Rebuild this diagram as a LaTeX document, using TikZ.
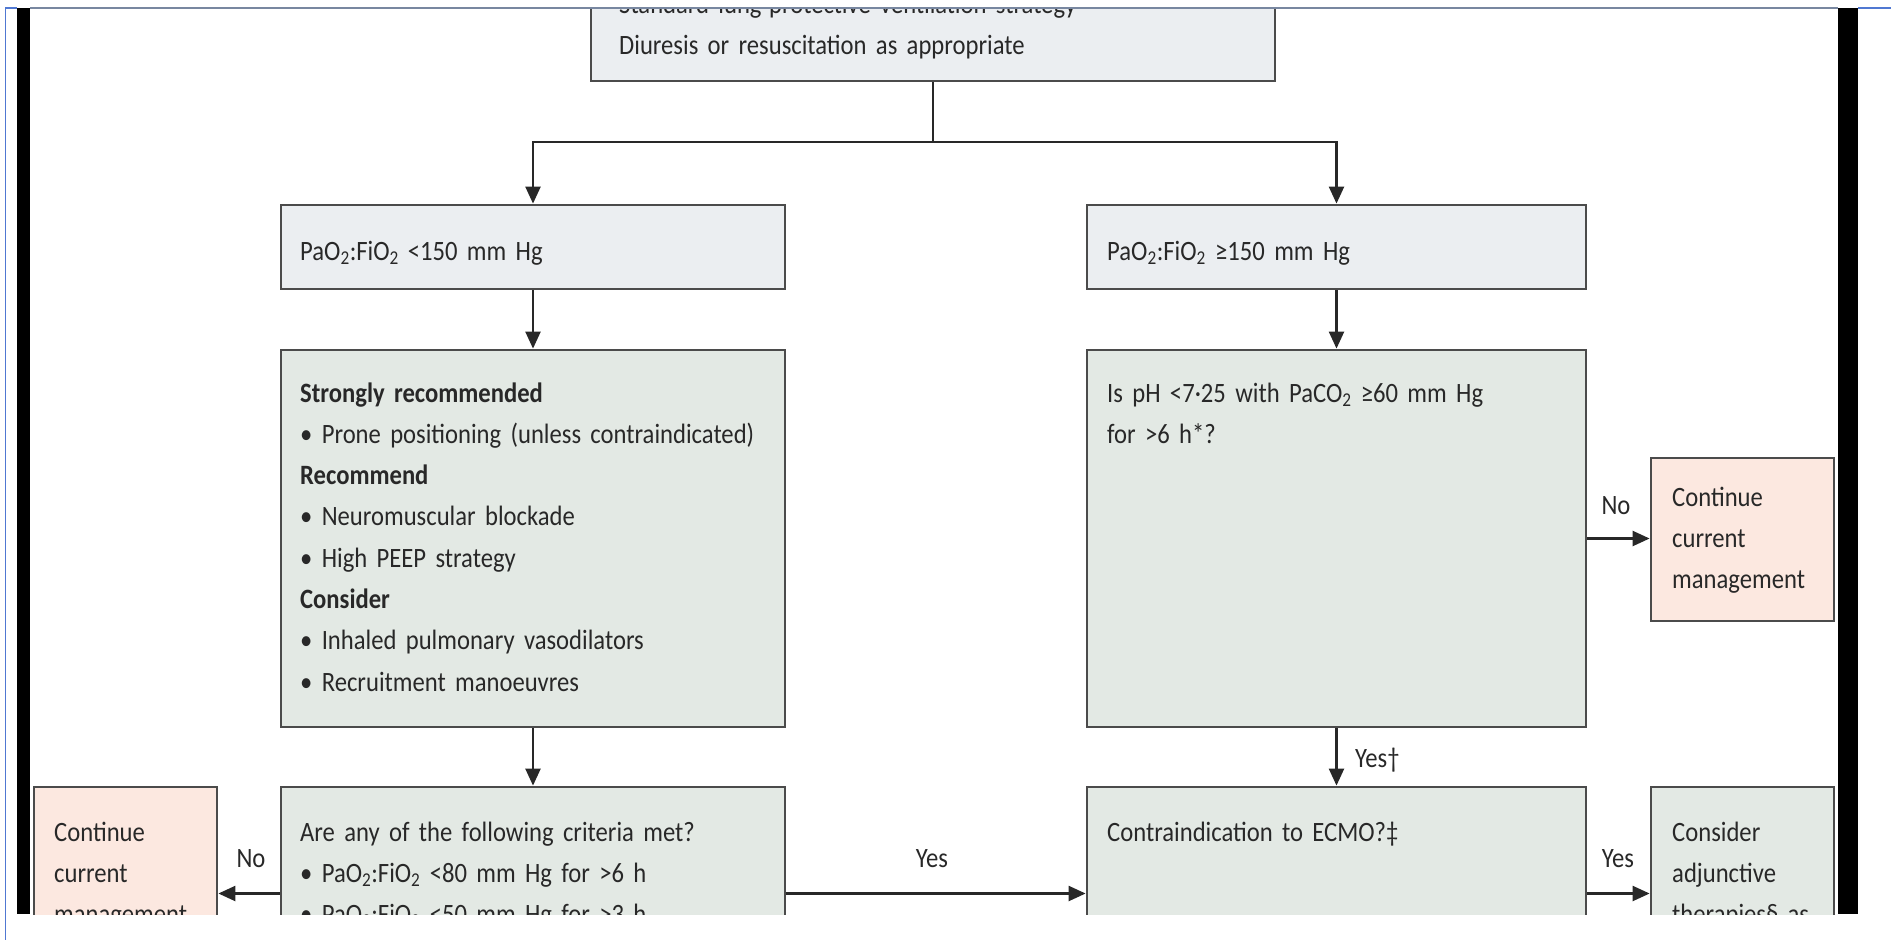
\documentclass[tikz,border=0pt]{standalone}
\usepackage{fontspec}
\setmainfont{Carlito}[FakeStretch=0.88, WordSpace=0.65]
\usetikzlibrary{arrows.meta,calc}
\definecolor{boxgrey}{RGB}{235,238,241}
\definecolor{boxgreen}{RGB}{227,233,228}
\definecolor{boxpink}{RGB}{252,232,224}
\definecolor{bordergrey}{RGB}{75,75,75}
\definecolor{textgrey}{RGB}{40,40,40}
\definecolor{framegrey}{RGB}{120,135,160}
\definecolor{frameblue}{RGB}{80,120,210}
\begin{document}
\begin{tikzpicture}[x=1pt,y=-1pt,
  box/.style={draw=bordergrey, line width=2.8pt, rectangle, inner sep=0pt},
  txt/.style={anchor=base west, align=left, inner sep=0pt, text=textgrey,
    text width=480pt, font=\fontsize{28}{41.3}\selectfont},
  lab/.style={inner sep=0pt, text=textgrey, font=\fontsize{28}{32}\selectfont},
  arr/.style={draw=textgrey, line width=2.3pt, -{Triangle[length=17pt,width=15pt]}},
  conn/.style={draw=textgrey, line width=2.3pt}]
\useasboundingbox (0,0) rectangle (1891,940);
\fill[white] (0,0) rectangle (1891,940);
\begin{scope}
\clip (30,8) rectangle (1838,914);
% boxes
\node[box, fill=boxgrey, minimum width=684pt, minimum height=141pt] (top) at (933,10.5) {};
\node[box, fill=boxgrey, minimum width=504pt, minimum height=84pt] (l1) at (533,247) {};
\node[box, fill=boxgrey, minimum width=499pt, minimum height=84pt] (r1) at (1336.5,247) {};
\node[box, fill=boxgreen, minimum width=504pt, minimum height=377pt] (l2) at (533,538.5) {};
\node[box, fill=boxgreen, minimum width=499pt, minimum height=377pt] (r2) at (1336.5,538.5) {};
\node[box, fill=boxpink, minimum width=183pt, minimum height=163pt] (cmR) at (1742.5,539.5) {};
\node[box, fill=boxgreen, minimum width=504pt, minimum height=213pt] (l3) at (533,893.5) {};
\node[box, fill=boxgreen, minimum width=499pt, minimum height=213pt] (r3) at (1336.5,893.5) {};
\node[box, fill=boxpink, minimum width=183pt, minimum height=213pt] (cmL) at (125.5,893.5) {};
\node[box, fill=boxgreen, minimum width=183pt, minimum height=213pt] (adj) at (1742.5,893.5) {};
% texts
\node[txt] (topt) at (619,13) {Standard lung-protective ventilation strategy\\Diuresis or resuscitation as appropriate};
\node[txt] (l1t) at (300,260) {PaO\textsubscript{2}:FiO\textsubscript{2}\hspace{9pt}<150 mm Hg};
\node[txt] (r1t) at (1107,260) {PaO\textsubscript{2}:FiO\textsubscript{2} ≥150 mm Hg};
\node[txt] (l2t) at (300,402) {\textbf{Strongly recommended}\\• Prone positioning (unless contraindicated)\\\textbf{Recommend}\\• Neuromuscular blockade\\• High PEEP strategy\\\textbf{Consider}\\• Inhaled pulmonary vasodilators\\• Recruitment manoeuvres};
\node[txt] (r2t) at (1107,402) {Is pH <7·25 with PaCO\textsubscript{2} ≥60 mm Hg\\for >6 h*?};
\node[txt] (cmRt) at (1672,506) {Continue\\current\\management};
\node[txt] (l3t) at (300,841) {Are any of the following criteria met?\\• PaO\textsubscript{2}:FiO\textsubscript{2} <80 mm Hg for >6 h\\• PaO\textsubscript{2}:FiO\textsubscript{2} <50 mm Hg for >3 h};
\node[txt] (r3t) at (1107,841) {Contraindication to ECMO?‡};
\node[txt] (cmLt) at (54,841) {Continue\\current\\management};
\node[txt] (adjt) at (1672,841) {Consider\\adjunctive\\therapies§ as};
% connectors
\coordinate (split) at (933,142);
\draw[conn] (top.south) -- (split);
\draw[arr] (split) -| (l1.north);
\draw[arr] (split) -| (r1.north);
\draw[arr] (l1.south) -- (l2.north);
\draw[arr] (r1.south) -- (r2.north);
\draw[arr] (l2.south) -- (l3.north);
\draw[arr] (r2.south) -- (r3.north);
\draw[arr] (r2.east) -- (r2.east -| cmR.west);
\draw[arr] (l3.west) -- (cmL.east);
\draw[arr] (l3.east) -- (r3.west);
\draw[arr] (r3.east) -- (adj.west);
% labels
\node[lab] (noR) at (1616,506) {No};
\node[lab, anchor=west] (yesD) at (1355,760) {Yes†};
\node[lab] (noL) at (251,859) {No};
\node[lab] (yesM) at (932,859) {Yes};
\node[lab] (yesR) at (1618,859) {Yes};
\end{scope}
% frame
\draw[framegrey, line width=1.5pt] (30,8) -- (1838,8);
\fill[black] (17,8) rectangle (30,914);
\fill[black] (1838,8) rectangle (1858,914);
\draw[frameblue, line width=1.8pt] (5.5,940) -- (5.5,8) -- (17,8);
\draw[frameblue, line width=1.8pt] (1858,8) -- (1891,8);
\end{tikzpicture}
\end{document}
